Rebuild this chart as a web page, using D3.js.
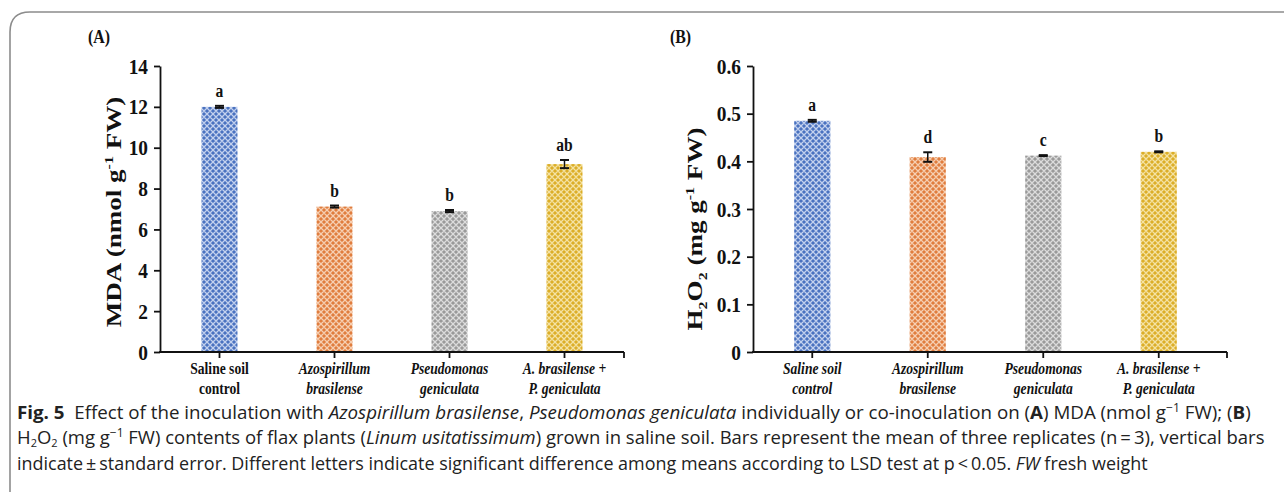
<!DOCTYPE html>
<html>
<head>
<meta charset="utf-8">
<script src="https://cdn.jsdelivr.net/npm/d3@7"></script>
<style>
  html, body { margin: 0; padding: 0; background: #fff; }
  svg { display: block; }
</style>
</head>
<body>
<svg id="chart" width="1284" height="492"></svg>
<script>
// ---------------- data ----------------
const categories = ["Saline soil control", "Azospirillum brasilense", "Pseudomonas geniculata", "A. brasilense + P. geniculata"];
const catLine1 = ["Saline soil", "Azospirillum", "Pseudomonas", "A. brasilense +"];
const catLine2 = ["control", "brasilense", "geniculata", "P. geniculata"];

const mdaValues  = [12.0, 7.12, 6.9, 9.2];
const mdaErrors  = [0.05, 0.05, 0.05, 0.2];
const mdaLetters = ["a", "b", "b", "ab"];
const mdaTicks   = [0, 2, 4, 6, 8, 10, 12, 14];
const mdaTickLabels = ["0", "2", "4", "6", "8", "10", "12", "14"];

const h2o2Values  = [0.485, 0.409, 0.412, 0.420];
const h2o2Errors  = [0.002, 0.010, 0.001, 0.001];
const h2o2Letters = ["a", "d", "c", "b"];
const h2o2Ticks   = [0, 0.1, 0.2, 0.3, 0.4, 0.5, 0.6];
const h2o2TickLabels = ["0", "0.1", "0.2", "0.3", "0.4", "0.5", "0.6"];

const barColors = [
  { base: "#4a72c0", light: "#c3d1ee" },
  { base: "#e07d3e", light: "#f6cfb2" },
  { base: "#9a9a9a", light: "#dcdcdc" },
  { base: "#dcae28", light: "#f4e2a2" }
];

// ---------------- setup ----------------
const svg = d3.select("#chart");
const SERIF = "'Liberation Serif', 'Times New Roman', serif";
const SANS = "'Open Sans', 'Noto Sans', sans-serif";

const defs = svg.append("defs");
barColors.forEach((c, i) => {
  const p = defs.append("pattern").attr("id", "pat" + i)
    .attr("patternUnits", "userSpaceOnUse").attr("width", 6).attr("height", 6);
  p.append("rect").attr("width", 6).attr("height", 6).attr("fill", c.base);
  p.append("path").attr("d", "M0,3 L3,0 L6,3 L3,6 Z").attr("fill", "none")
    .attr("stroke", c.light).attr("stroke-width", 1.3);
  p.append("circle").attr("cx", 3).attr("cy", 3).attr("r", 0.9).attr("fill", c.base);
});

// frame
svg.append("path")
  .attr("d", "M1284,12 L30,12 Q10,12 10,32 L10,492")
  .attr("fill", "none").attr("stroke", "#8c8c8c").attr("stroke-width", 1.6);

const Y0 = 352, YTOP = 66;

const panels = [
  { values: mdaValues, errors: mdaErrors, letters: mdaLetters, ticks: mdaTicks, tickLabels: mdaTickLabels,
    max: 14, axisX: 160, range: [162, 622], axisEnd: 624, label: "(A)", labelX: 88,
    titleX: 113, titleY: 212, italicFirst: false, kind: "A" },
  { values: h2o2Values, errors: h2o2Errors, letters: h2o2Letters, ticks: h2o2Ticks, tickLabels: h2o2TickLabels,
    max: 0.6, axisX: 753, range: [754.5, 1216.5], axisEnd: 1227, label: "(B)", labelX: 670,
    titleX: 694, titleY: 229, italicFirst: true, kind: "B" }
];

function condense(sel, sx) {
  sel.each(function () {
    const t = d3.select(this);
    const x = +t.attr("x") || 0, y = +t.attr("y") || 0;
    t.attr("x", 0).attr("y", 0).attr("transform", `translate(${x},${y}) scale(${sx},1)`);
  });
}

panels.forEach(P => {
  const g = svg.append("g");
  const y = d3.scaleLinear().domain([0, P.max]).range([Y0, YTOP]);
  const x = d3.scaleBand().domain(categories).range(P.range).paddingInner(0.687).paddingOuter(0.3435);

  g.selectAll("rect.bar").data(categories).join("rect")
    .attr("x", d => x(d)).attr("width", x.bandwidth())
    .attr("y", (d, i) => y(P.values[i])).attr("height", (d, i) => Y0 - y(P.values[i]))
    .attr("fill", (d, i) => `url(#pat${i})`);

  categories.forEach((c, i) => {
    const cx = x(c) + x.bandwidth() / 2;
    const top = y(P.values[i] + P.errors[i]), bot = y(P.values[i] - P.errors[i]);
    g.append("line").attr("x1", cx).attr("x2", cx).attr("y1", top).attr("y2", bot)
      .attr("stroke", "#111").attr("stroke-width", 1.5);
    [top, bot].forEach(yy => g.append("line").attr("x1", cx - 4.5).attr("x2", cx + 4.5)
      .attr("y1", yy).attr("y2", yy).attr("stroke", "#111").attr("stroke-width", 2));
    const t = g.append("text").attr("x", cx).attr("y", top - 9)
      .attr("text-anchor", "middle").attr("font-family", SERIF).attr("font-weight", "bold")
      .attr("font-size", 19).attr("fill", "#111").text(P.letters[i]);
    condense(t, 0.82);
  });

  const ya = g.append("g").attr("transform", `translate(${P.axisX},0)`)
    .call(d3.axisLeft(y).tickValues(P.ticks).tickSize(6).tickSizeOuter(0)
      .tickFormat((d, i) => P.tickLabels[i]));
  ya.select(".domain").attr("stroke", "#111").attr("stroke-width", 1.8);
  ya.selectAll(".tick line").attr("stroke", "#111").attr("stroke-width", 1.8);
  ya.selectAll(".tick text").attr("x", 0).attr("transform", "translate(-12,0) scale(0.88,1)")
    .attr("font-family", SERIF).attr("font-weight", "bold").attr("font-size", 22).attr("fill", "#111");

  const xa = g.append("g").attr("transform", `translate(0,${Y0})`)
    .call(d3.axisBottom(x).tickSize(6).tickSizeOuter(0).tickFormat(""));
  xa.select(".domain").remove();
  xa.selectAll(".tick line").attr("stroke", "#111").attr("stroke-width", 1.8);
  g.append("line").attr("x1", P.axisX - 0.9).attr("x2", P.axisEnd).attr("y1", Y0).attr("y2", Y0)
    .attr("stroke", "#111").attr("stroke-width", 1.8);
  g.append("line").attr("x1", P.axisEnd).attr("x2", P.axisEnd).attr("y1", Y0).attr("y2", Y0 + 6)
    .attr("stroke", "#111").attr("stroke-width", 1.8);

  categories.forEach((c, i) => {
    const cx = x(c) + x.bandwidth() / 2;
    const italic = (i > 0 || P.italicFirst) ? "italic" : "normal";
    [catLine1[i], catLine2[i]].forEach((line, k) => {
      const t = g.append("text").attr("x", cx).attr("y", 374 + k * 19.5)
        .attr("text-anchor", "middle").attr("font-family", SERIF).attr("font-weight", "bold")
        .attr("font-style", italic).attr("font-size", 17).attr("fill", "#111").text(line);
      condense(t, 0.8);
    });
  });

  const pl = g.append("text").attr("x", P.labelX).attr("y", 43)
    .attr("font-family", SERIF).attr("font-weight", "bold").attr("font-size", 18).attr("fill", "#111")
    .text(P.label);
  condense(pl, 0.88);

  const tt = g.append("text").attr("text-anchor", "middle")
    .attr("transform", `translate(${P.titleX},${P.titleY}) rotate(-90) scale(1.23,1)`)
    .attr("font-family", SERIF).attr("font-weight", "bold").attr("font-size", 22).attr("fill", "#111")
    .attr("dy", "0.35em");
  if (P.kind === "A") {
    tt.append("tspan").text("MDA (nmol g");
    tt.append("tspan").attr("dy", -8).attr("font-size", 13).text("-1");
    tt.append("tspan").attr("dy", 8).text(" FW)");
  } else {
    tt.append("tspan").text("H");
    tt.append("tspan").attr("dy", 5).attr("font-size", 13).text("2");
    tt.append("tspan").attr("dy", -5).text("O");
    tt.append("tspan").attr("dy", 5).attr("font-size", 13).text("2");
    tt.append("tspan").attr("dy", -5).text(" (mg g");
    tt.append("tspan").attr("dy", -8).attr("font-size", 13).text("-1");
    tt.append("tspan").attr("dy", 8).text(" FW)");
  }
});

// ---------------- caption ----------------
const capLines = [
  { y: 419, width: 1235, parts: [
    { t: "Fig. 5", w: "bold" }, { t: "  Effect of the inoculation with " },
    { t: "Azospirillum brasilense", i: true }, { t: ", " }, { t: "Pseudomonas geniculata", i: true },
    { t: " individually or co-inoculation on (" }, { t: "A", w: "bold" }, { t: ") MDA (nmol g" },
    { t: "\u22121", sup: true }, { t: " FW); (" }, { t: "B", w: "bold" }, { t: ")" } ] },
  { y: 443.5, width: 1248, parts: [
    { t: "H" }, { t: "2", sub: true }, { t: "O" }, { t: "2", sub: true }, { t: " (mg g" }, { t: "\u22121", sup: true },
    { t: " FW) contents of flax plants (" }, { t: "Linum usitatissimum", i: true },
    { t: ") grown in saline soil. Bars represent the mean of three replicates (n\u2009=\u20093), vertical bars" } ] },
  { y: 469.5, width: 1131, parts: [
    { t: "indicate\u2009\u00b1\u2009standard error. Different letters indicate significant difference among means according to LSD test at p\u2009<\u20090.05. " },
    { t: "FW", i: true }, { t: " fresh weight" } ] }
];

capLines.forEach(L => {
  const t = svg.append("text").attr("x", 0).attr("y", 0)
    .attr("font-family", SANS).attr("font-size", 18.5).attr("fill", "#222")
    .style("white-space", "pre");
  let shift = 0;
  L.parts.forEach(p => {
    const ts = t.append("tspan").text(p.t);
    if (p.w) ts.attr("font-weight", p.w);
    if (p.i) ts.attr("font-style", "italic");
    let dy = 0;
    if (p.sup) { dy = -7; ts.attr("font-size", 12); }
    if (p.sub) { dy = 3; ts.attr("font-size", 11); }
    ts.attr("dy", dy - shift);
    shift = dy;
  });
  const w = t.node().getComputedTextLength();
  t.attr("transform", `translate(17,${L.y}) scale(${L.width / w},1)`);
});
</script>
</body>
</html>
